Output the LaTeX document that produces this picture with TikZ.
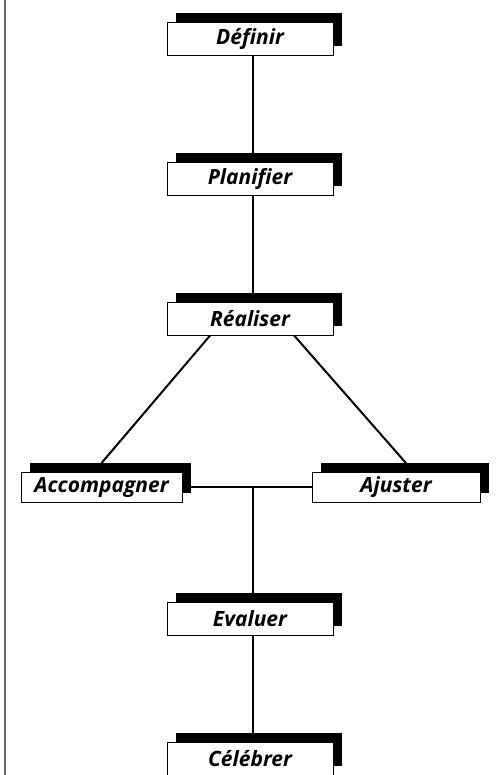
\documentclass[tikz,border=0pt]{standalone}
\usepackage{fontspec}
\setmainfont[Ligatures=CommonOff]{Open Sans}
\usepackage{tikz}
\usetikzlibrary{shadows,backgrounds}

\tikzset{
  etape/.style={draw, fill=white, line width=0.8pt, inner sep=0pt,
    minimum width=166pt, minimum height=33pt,
    font=\fontsize{21}{23}\selectfont\bfseries\itshape,
    general shadow={fill=black, shadow xshift=9pt, shadow yshift=9pt}},
  lien/.style={line width=2pt}
}

\begin{document}
\begin{tikzpicture}[x=1pt,y=1pt]
  \useasboundingbox (0,0) rectangle (498,775);
  % left rule
  \draw[black!60, line width=2pt] (4.5,0) -- (4.5,775);

  % steps
  \node[etape] (def) at (250,736.5) {Définir};
  \node[etape] (plan) at (250,596.5) {Planifier};
  \node[etape] (real) at (250,456.5) {Réaliser};
  \node[etape, minimum width=161pt, minimum height=30pt] (acc) at (101.5,287.5) {Accompagner};
  \node[etape, minimum width=168pt, minimum height=30pt] (aju) at (396,287.5) {Ajuster};
  \node[etape] (eva) at (250,156.5) {Evaluer};
  \node[etape] (cel) at (250,16.5) {Célébrer};

  % links
  \begin{scope}[on background layer]
    \draw[lien] ([xshift=3pt]def.center) -- ([xshift=3pt]plan.center);
    \draw[lien] ([xshift=3pt]plan.center) -- ([xshift=3pt]real.center);
    \draw[lien] (real.203) -- ([yshift=9pt]acc.north);
    \draw[lien] (real.-21) -- ([xshift=10pt,yshift=9pt]aju.north);
    \draw[lien] (acc.center) -- (aju.center);
    \draw[lien] ([xshift=3pt]eva.center) -- ([xshift=3pt]eva.center |- acc.center);
    \draw[lien] ([xshift=3pt]eva.center) -- ([xshift=3pt]cel.center);
  \end{scope}
\end{tikzpicture}
\end{document}
